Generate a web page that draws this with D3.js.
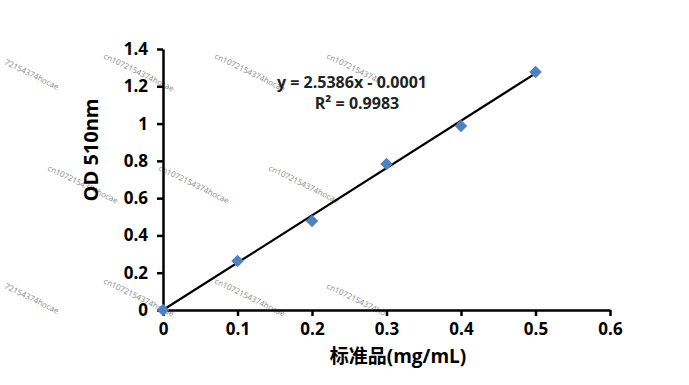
<!DOCTYPE html>
<html>
<head>
<meta charset="utf-8">
<script src="https://cdn.jsdelivr.net/npm/d3@7"></script>
<style>
  body { margin: 0; background: #fff; }
  text { font-family: "Open Sans", "Noto Sans CJK SC", sans-serif; }
</style>
</head>
<body>
<div id="chart"></div>
<script>
// standard curve data
const concentrations = [0, 0.1, 0.2, 0.3, 0.4, 0.5];
const absorbance = [0, 0.263, 0.477, 0.783, 0.987, 1.277];
const slope = 2.5386;
const intercept = -0.0001;
const equationLines = ["y = 2.5386x - 0.0001", "R² = 0.9983"];
const xTicks = [0, 0.1, 0.2, 0.3, 0.4, 0.5, 0.6];
const yTicks = [0, 0.2, 0.4, 0.6, 0.8, 1, 1.2, 1.4];
// watermarks as they show in the picture (start of text)
const wmText = ["72154374hocae", "cn1072154374hocae", "cn1072154374hocae", "cn1072154374h",
  "cn1072154374hocae", "cn1072154374hocae", "cn1072154374hocae",
  "72154374hocae", "cn1072154374hocae", "cn1072154374hocae", "cn1072154374ho"];
const wmX = [4, 103, 214, 326, 47, 158, 268, 4, 103, 214, 326];
const wmY = [64, 58, 58, 58, 170, 170, 170, 288, 283, 283, 288];

const width = 689;
const height = 385;
const marginLeft = 163;
const marginRight = 79;
const marginTop = 49;
const marginBottom = 75;

const x = d3.scaleLinear([0, 0.6], [marginLeft, width - marginRight]);
const y = d3.scaleLinear([0, 1.4], [height - marginBottom, marginTop]);

const svg = d3.select("#chart").append("svg")
    .attr("width", width)
    .attr("height", height)
    .attr("viewBox", [0, 0, width, height]);

// watermarks behind everything
wmText.forEach((t, i) => {
  svg.append("text")
      .attr("transform", `translate(${wmX[i]},${wmY[i]}) rotate(26)`)
      .attr("font-size", 8)
      .attr("font-family", "DejaVu Sans, sans-serif")
      .attr("fill", "#8a8a8a")
      .text(t);
});

// x axis
svg.append("g")
    .attr("transform", `translate(0,${height - marginBottom})`)
    .call(d3.axisBottom(x).tickValues(xTicks).tickFormat(d3.format("")).tickSize(6).tickSizeOuter(0).tickPadding(7))
    .call(g => g.select(".domain").attr("stroke-width", 2.5))
    .call(g => g.selectAll(".tick line").attr("stroke-width", 2.5))
    .call(g => g.selectAll(".tick text")
        .attr("font-size", 17).attr("font-weight", "bold")
        .attr("font-family", "Open Sans, sans-serif").attr("fill", "#000"));

// y axis
svg.append("g")
    .attr("transform", `translate(${marginLeft},0)`)
    .call(d3.axisLeft(y).tickValues(yTicks).tickFormat(d3.format("")).tickSize(6).tickSizeOuter(0).tickPadding(9))
    .call(g => g.select(".domain").attr("stroke-width", 2.5))
    .call(g => g.selectAll(".tick line").attr("stroke-width", 2.5))
    .call(g => g.selectAll(".tick text")
        .attr("font-size", 17).attr("font-weight", "bold")
        .attr("font-family", "Open Sans, sans-serif").attr("fill", "#000"));

// linear trendline
const xEnd = d3.max(concentrations);
svg.append("line")
    .attr("x1", x(0)).attr("y1", y(intercept))
    .attr("x2", x(xEnd)).attr("y2", y(slope * xEnd + intercept))
    .attr("stroke", "#000")
    .attr("stroke-width", 2.2);

// diamond markers
svg.append("g")
  .selectAll("path")
  .data(concentrations)
  .join("path")
    .attr("transform", (d, i) => `translate(${x(d)},${y(absorbance[i])}) rotate(45)`)
    .attr("d", d3.symbol().type(d3.symbolSquare).size(78))
    .attr("fill", "#4f81bd");

// equation label
svg.append("g")
  .selectAll("text")
  .data(equationLines)
  .join("text")
    .attr("x", (d, i) => i === 0 ? 352 : 357)
    .attr("y", (d, i) => 88 + i * 21)
    .attr("text-anchor", "middle")
    .attr("font-size", 16)
    .attr("font-weight", "bold")
    .attr("fill", "#222")
    .text(d => d);

// axis titles
svg.append("text")
    .attr("x", 398)
    .attr("y", 363)
    .attr("text-anchor", "middle")
    .attr("font-size", 19)
    .attr("font-weight", "bold")
    .attr("font-family", "Open Sans, Noto Sans CJK SC, sans-serif")
    .text("标准品(mg/mL)");

svg.append("text")
    .attr("transform", `translate(98,150) rotate(-90)`)
    .attr("text-anchor", "middle")
    .attr("font-size", 20)
    .attr("font-weight", "bold")
    .text("OD 510nm");
</script>
</body>
</html>
